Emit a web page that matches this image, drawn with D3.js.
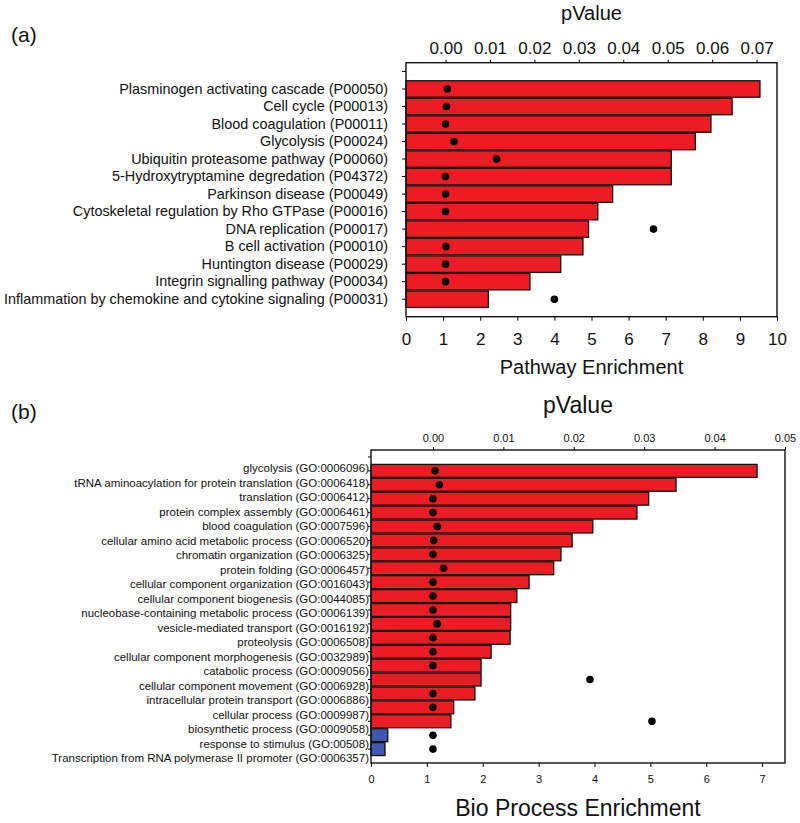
<!DOCTYPE html>
<html><head><meta charset="utf-8">
<script src="https://cdn.jsdelivr.net/npm/d3@7"></script>
<style>
body{margin:0;background:#fff}
svg{display:block}
text{font-family:"Liberation Sans",Arial,Helvetica,sans-serif;fill:#111}
</style>
</head><body>
<svg id="chart" width="800" height="823"></svg>
<script>
// ---------- Panel (a): pathway enrichment ----------
const pathwayNames = [
  "Plasminogen activating cascade (P00050)",
  "Cell cycle (P00013)",
  "Blood coagulation (P00011)",
  "Glycolysis (P00024)",
  "Ubiquitin proteasome pathway (P00060)",
  "5-Hydroxytryptamine degredation (P04372)",
  "Parkinson disease (P00049)",
  "Cytoskeletal regulation by Rho GTPase (P00016)",
  "DNA replication (P00017)",
  "B cell activation (P00010)",
  "Huntington disease (P00029)",
  "Integrin signalling pathway (P00034)",
  "Inflammation by chemokine and cytokine signaling (P00031)"
];
const pathwayEnrichment = [9.54, 8.79, 8.22, 7.80, 7.15, 7.15, 5.57, 5.17, 4.92, 4.77, 4.17, 3.34, 2.22];
const pathwayPValue = [0.0004, 0.0002, 0.0000, 0.0019, 0.0115, 0.0000, 0.0000, 0.0000, 0.0468, 0.0001, 0.0000, 0.0000, 0.0245];
const pathwayDirection = ["up","up","up","up","up","up","up","up","up","up","up","up","up"];
const pathwayEnrichTicks = [0,1,2,3,4,5,6,7,8,9,10];
const pathwayPTicks = [0,0.01,0.02,0.03,0.04,0.05,0.06,0.07];

// ---------- Panel (b): biological process enrichment ----------
const bioNames = [
  "glycolysis (GO:0006096)",
  "tRNA aminoacylation for protein translation (GO:0006418)",
  "translation (GO:0006412)",
  "protein complex assembly (GO:0006461)",
  "blood coagulation (GO:0007596)",
  "cellular amino acid metabolic process (GO:0006520)",
  "chromatin organization (GO:0006325)",
  "protein folding (GO:0006457)",
  "cellular component organization (GO:0016043)",
  "cellular component biogenesis (GO:0044085)",
  "nucleobase-containing metabolic process (GO:0006139)",
  "vesicle-mediated transport (GO:0016192)",
  "proteolysis (GO:0006508)",
  "cellular component morphogenesis (GO:0032989)",
  "catabolic process (GO:0009056)",
  "cellular component movement (GO:0006928)",
  "intracellular protein transport (GO:0006886)",
  "cellular process (GO:0009987)",
  "biosynthetic process (GO:0009058)",
  "response to stimulus (GO:00508)",
  "Transcription from RNA polymerase II promoter (GO:0006357)"
];
const bioEnrichment = [6.91, 5.46, 4.97, 4.76, 3.97, 3.60, 3.40, 3.27, 2.83, 2.61, 2.50, 2.50, 2.49, 2.15, 1.97, 1.97, 1.86, 1.48, 1.43, 0.30, 0.25];
const bioPValue = [0.0003, 0.0009, 0.0000, 0.0000, 0.0006, 0.0001, 0.0000, 0.0015, 0.0000, 0.0000, 0.0000, 0.0006, 0.0000, 0.0000, 0.0000, 0.0223, 0.0000, 0.0000, 0.0311, 0.0000, 0.0000];
const bioDirection = ["up","up","up","up","up","up","up","up","up","up","up","up","up","up","up","up","up","up","up","down","down"];
const bioEnrichTicks = [0,1,2,3,4,5,6,7];
const bioPTicks = [0,0.01,0.02,0.03,0.04,0.05];

const colorOf = {up: "#ED1C24", down: "#4156AE"};
const svg = d3.select("#chart");
svg.append("rect").attr("width", 800).attr("height", 823).attr("fill", "#fff");

function drawPanel(o) {
  const n = o.names.length;
  const step = (o.bottom - o.top) / (n + 1.5);
  const y = d3.scaleBand().domain(o.names)
    .range([o.top + step, o.top + (n + 1) * step]).paddingInner(o.barPad).paddingOuter(o.barPad / 2);
  const x = d3.scaleLinear().domain(o.xDomain).range([o.left, o.right]);
  const xp = d3.scaleLinear().domain(o.pDomain).range([o.left, o.right]);
  const g = svg.append("g");

  // bars
  g.selectAll("rect.bar").data(o.names).join("rect").attr("class", "bar")
    .attr("x", x(0)).attr("y", d => y(d))
    .attr("width", (d, i) => x(o.values[i]) - x(0))
    .attr("height", y.bandwidth())
    .attr("fill", (d, i) => colorOf[o.dir[i]])
    .attr("stroke", "#111").attr("stroke-width", 1.3);

  // pValue dots
  g.selectAll("circle.dot").data(o.names).join("circle").attr("class", "dot")
    .attr("cx", (d, i) => xp(o.pvals[i]))
    .attr("cy", d => y(d) + y.bandwidth() / 2)
    .attr("r", o.dotR).attr("fill", "#000");

  // frame
  g.append("rect").attr("x", o.left).attr("y", o.top)
    .attr("width", o.right - o.left).attr("height", o.bottom - o.top)
    .attr("fill", "none").attr("stroke", "#111").attr("stroke-width", 1.4);

  // bottom axis
  const ab = g.append("g").attr("transform", `translate(0,${o.bottom})`)
    .call(d3.axisBottom(x).tickValues(o.xTicks).tickFormat(d3.format("d"))
      .tickSize(4).tickPadding(o.bottomPad));
  ab.select(".domain").remove();
  ab.selectAll("text").attr("font-size", o.tickFont).attr("font-family", null);

  // top axis
  const at = g.append("g").attr("transform", `translate(0,${o.top})`)
    .call(d3.axisTop(xp).tickValues(o.pTicks).tickFormat(d3.format(".2f"))
      .tickSize(3).tickPadding(o.topPad));
  at.select(".domain").remove();
  at.selectAll("text").attr("font-size", o.tickFont).attr("font-family", null);

  // left ticks (categories + one empty slot at top)
  const al = g.append("g").attr("transform", `translate(${o.left},0)`)
    .call(d3.axisLeft(y).tickSize(o.leftTick).tickFormat(o.labelsOnAxis ? null : () => "")
      .tickPadding(o.leftPad));
  al.select(".domain").remove();
  al.selectAll("text").attr("font-size", o.labelFont).attr("font-family", null);
  al.append("line").attr("x1", -o.leftTick).attr("x2", 0)
    .attr("y1", o.top + step / 2).attr("y2", o.top + step / 2).attr("stroke", "currentColor");

  // separately placed category labels (if requested)
  if (!o.labelsOnAxis) {
    const yl = d3.scalePoint().domain(o.names).range(o.labelRange);
    const lab = g.append("g").attr("transform", `translate(${o.left - o.labelGap},0)`)
      .call(d3.axisLeft(yl).tickSize(0).tickPadding(0));
    lab.select(".domain").remove();
    lab.selectAll("text").attr("font-size", o.labelFont).attr("font-family", null);
  }

  // titles
  svg.append("text").attr("x", (o.left + o.right) / 2).attr("y", o.pTitleY)
    .attr("text-anchor", "middle").attr("font-size", o.titleFont).text("pValue");
  svg.append("text").attr("x", (o.left + o.right) / 2).attr("y", o.xTitleY)
    .attr("text-anchor", "middle").attr("font-size", o.titleFont).text(o.xTitle);
  svg.append("text").attr("x", 11).attr("y", o.tagY)
    .attr("font-size", 21).text(o.tag);
}

drawPanel({
  names: pathwayNames, values: pathwayEnrichment, pvals: pathwayPValue, dir: pathwayDirection,
  left: 406, right: 777, top: 62.7, bottom: 316.7,
  xDomain: [0, 10], xTicks: pathwayEnrichTicks,
  pDomain: [-0.0089, 0.0746], pTicks: pathwayPTicks,
  barPad: 0.06, dotR: 3.8,
  tickFont: 17, labelFont: 14.4, titleFont: 20,
  bottomPad: 12.5, topPad: 6, leftTick: 4, leftPad: 14, labelsOnAxis: true,
  pTitleY: 20, xTitleY: 374, xTitle: "Pathway Enrichment", tag: "(a)", tagY: 41.5
});

drawPanel({
  names: bioNames, values: bioEnrichment, pvals: bioPValue, dir: bioDirection,
  left: 371, right: 785, top: 450, bottom: 763,
  xDomain: [0, 7.41], xTicks: bioEnrichTicks,
  pDomain: [-0.0088, 0.05], pTicks: bioPTicks,
  barPad: 0.07, dotR: 3.8,
  tickFont: 11, labelFont: 11.5, titleFont: 23,
  bottomPad: 8, topPad: 5.3, leftTick: 3, leftPad: 3, labelsOnAxis: false,
  labelRange: [468.3, 758.3], labelGap: 2,
  pTitleY: 413.3, xTitleY: 815.7, xTitle: "Bio Process Enrichment", tag: "(b)", tagY: 418.5
});
</script>
</body></html>
